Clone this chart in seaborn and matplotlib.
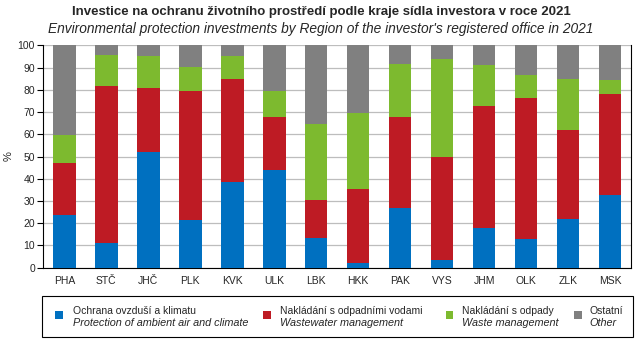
import numpy as np
import pandas as pd
import matplotlib
matplotlib.use("Agg")
import matplotlib.pyplot as plt
from matplotlib.patches import Rectangle
import seaborn as sns

regions = ["PHA", "STČ", "JHČ", "PLK", "KVK", "ULK", "LBK", "HKK", "PAK", "VYS", "JHM", "OLK", "ZLK", "MSK"]
air = [23.7, 11.1, 52.0, 21.4, 38.5, 43.9, 13.3, 2.1, 27.0, 3.6, 17.8, 12.9, 21.9, 32.7]
wastewater = [23.4, 70.6, 28.8, 58.1, 46.4, 23.9, 17.1, 33.3, 40.8, 46.2, 54.9, 63.4, 40.0, 45.4]
waste = [12.6, 14.0, 14.4, 10.8, 10.3, 11.7, 34.2, 34.2, 23.8, 44.1, 18.5, 10.4, 23.0, 6.3]
other = [40.3, 4.3, 4.8, 9.7, 4.8, 20.5, 35.4, 30.4, 8.4, 6.1, 8.8, 13.3, 15.1, 15.6]

labels_cz = ["Ochrana ovzduší a klimatu", "Nakládání s odpadními vodami", "Nakládání s odpady", "Ostatní"]
labels_en = ["Protection of ambient air and climate", "Wastewater management", "Waste management", "Other"]
colors = ["#0070C0", "#BE1B24", "#7DBA2F", "#808080"]

title_cz = "Investice na ochranu životního prostředí podle kraje sídla investora v roce 2021"
title_en = "Environmental protection investments by Region of the investor's registered office in 2021"

sns.set_style("white")
plt.rcParams["font.family"] = ["Liberation Sans", "DejaVu Sans"]

series = [air, wastewater, waste, other]
cum = np.cumsum(np.array(series), axis=0)

fig = plt.figure(figsize=(6.43, 3.46), dpi=100)
ax = fig.add_axes([43.3 / 643, (346 - 267.7) / 346, 587.7 / 643, (267.7 - 45.3) / 346])

# draw tallest cumulative layer first, then overlay lower ones
for i in range(3, -1, -1):
    df = pd.DataFrame({"region": regions, "value": cum[i]})
    sns.barplot(data=df, x="region", y="value", color=colors[i], saturation=1,
                width=0.54, ax=ax, zorder=3, edgecolor="none", linewidth=0)

ax.set_xlim(-0.5, 13.5)
ax.set_ylim(0, 100)
ax.set_yticks(np.arange(0, 101, 10))
ax.yaxis.grid(True, color="#BDBDBD", linewidth=0.9, zorder=0)
ax.set_axisbelow(True)
ax.set_xlabel("")
ax.set_ylabel("%", fontsize=8, labelpad=3)

for s in ["left", "right", "bottom"]:
    ax.spines[s].set_visible(True)
    ax.spines[s].set_color("black")
    ax.spines[s].set_linewidth(0.8)
ax.spines["top"].set_visible(False)

ax.set_xticks(np.arange(len(regions)))
ax.set_xticklabels(regions)
ax.set_xticks(np.arange(-0.5, 14, 1), minor=True)
ax.tick_params(axis="x", which="major", length=0, labelsize=7.5, pad=6)
ax.tick_params(axis="x", which="minor", length=4, width=0.8, color="black", direction="out")
ax.tick_params(axis="y", which="major", length=4, width=0.8, color="black", direction="out",
               labelsize=7.5, pad=2, left=True)

fig.text(321 / 643, 1 - 12 / 346, title_cz, ha="center", va="center", fontsize=9.5, fontweight="bold")
fig.text(321 / 643, 1 - 29 / 346, title_en, ha="center", va="center", fontsize=9.9, fontstyle="italic")

# legend box
fig.patches.append(Rectangle((42 / 643, 1 - 337 / 346), (633 - 42) / 643, (337 - 296) / 346,
                             transform=fig.transFigure, facecolor="white", edgecolor="black",
                             linewidth=0.8))
sq_x = [55, 263, 446, 574]
tx_x = [73, 280, 462, 589]
for i in range(4):
    fig.patches.append(Rectangle((sq_x[i] / 643, 1 - 319 / 346), 7.5 / 643, 8 / 346,
                                 transform=fig.transFigure, facecolor=colors[i], edgecolor="none"))
    fig.text(tx_x[i] / 643, 1 - 311 / 346, labels_cz[i], ha="left", va="center", fontsize=7.5)
    fig.text(tx_x[i] / 643, 1 - 323 / 346, labels_en[i], ha="left", va="center", fontsize=7.8,
             fontstyle="italic")

fig.savefig("out.png", dpi=100)
